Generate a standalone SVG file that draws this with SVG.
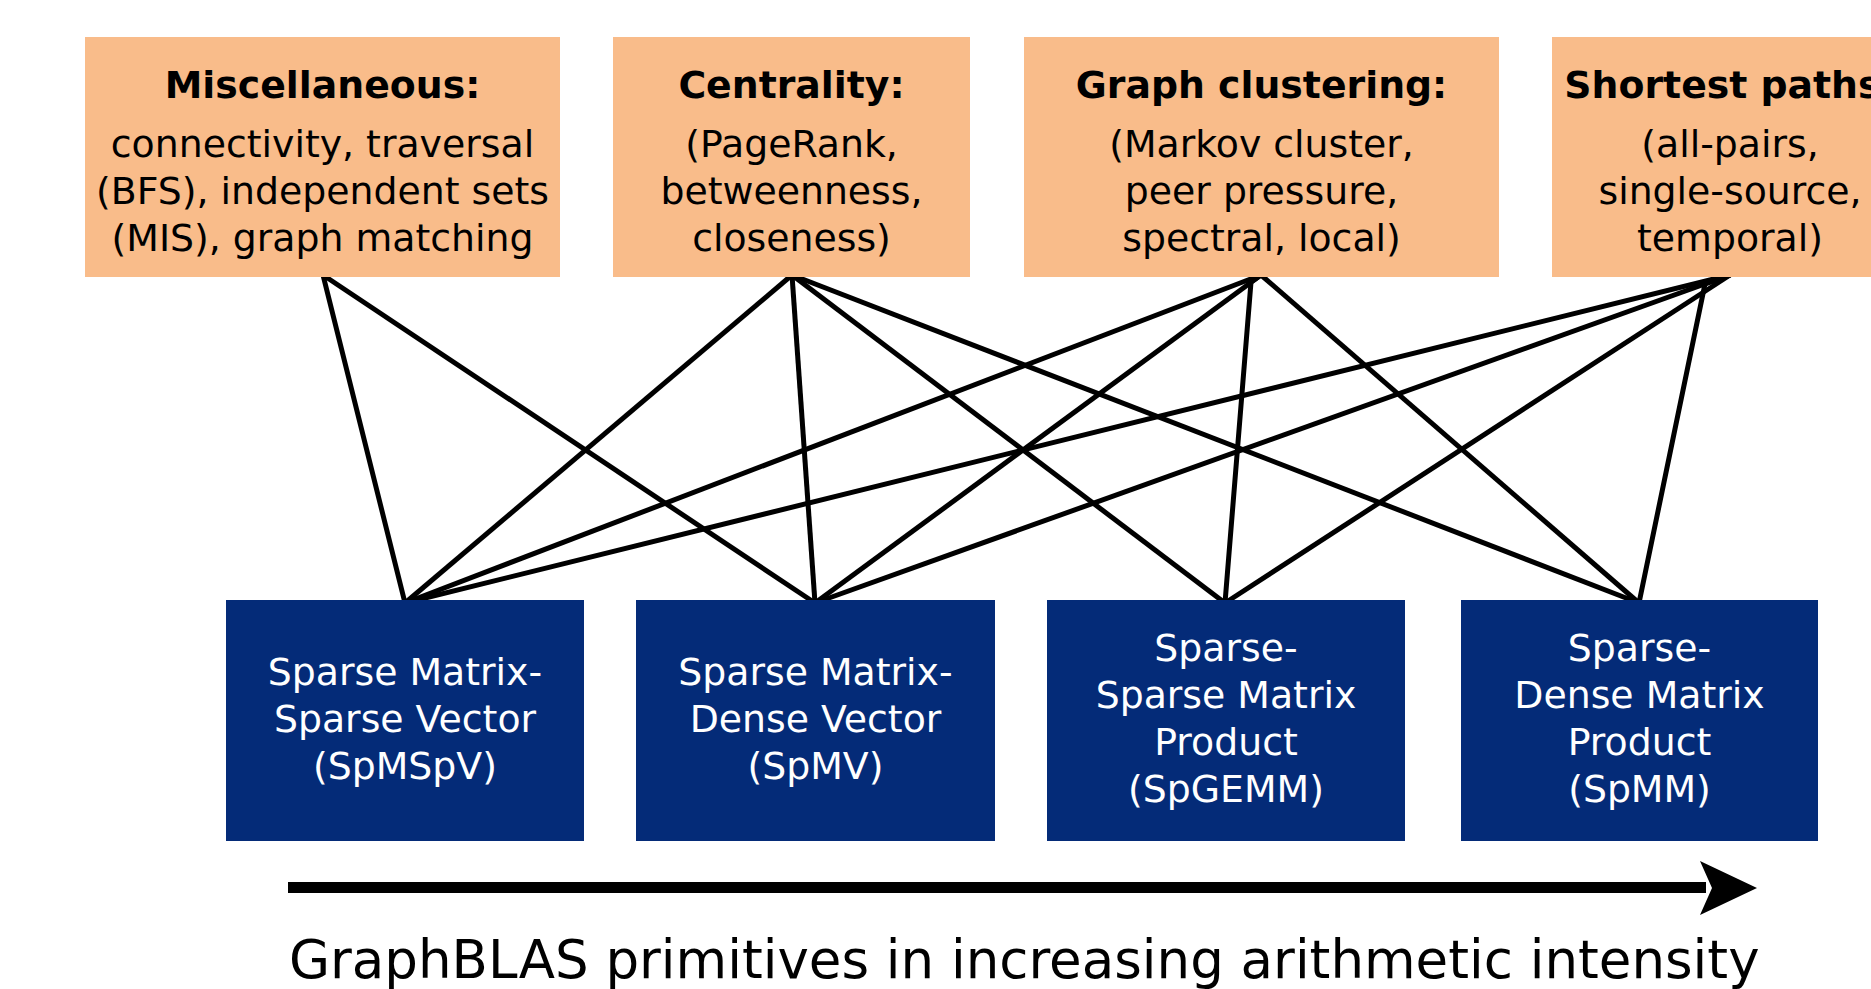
<svg xmlns="http://www.w3.org/2000/svg" width="1871" height="989" viewBox="0 0 1871 989">
<style>
.top{fill:#F9BC8A}
.bot{fill:#042B78}
.t{font-family:"DejaVu Sans","Verdana",sans-serif;font-size:37.8px;text-anchor:middle}
.dark{fill:#000}
.light{fill:#fff}
.b{font-weight:bold}
.edge{fill:none;stroke:#000;stroke-width:5;stroke-linejoin:miter}
</style>
<rect width="1871" height="989" fill="#fff"/>
<g id="connectors">
<line class="edge" x1="323" y1="275" x2="405" y2="603"/>
<line class="edge" x1="323" y1="275" x2="815" y2="603"/>
<line class="edge" x1="792" y1="275" x2="405" y2="603"/>
<line class="edge" x1="792" y1="275" x2="815" y2="603"/>
<line class="edge" x1="792" y1="275" x2="1225" y2="603"/>
<line class="edge" x1="792" y1="275" x2="1639" y2="603"/>
<line class="edge" x1="1261" y1="275" x2="405" y2="603"/>
<line class="edge" x1="1261" y1="275" x2="815" y2="603"/>
<polyline class="edge" points="1225,603 1251,282 1261,275"/>
<line class="edge" x1="1261" y1="275" x2="1639" y2="603"/>
<line class="edge" x1="1730" y1="275" x2="405" y2="603"/>
<line class="edge" x1="1730" y1="275" x2="815" y2="603"/>
<line class="edge" x1="1730" y1="275" x2="1225" y2="603"/>
<polyline class="edge" points="1639,603 1705,284 1730,275"/>
</g>
<g id="misc">
<rect class="top" x="85" y="37" width="475" height="240"/>
<text class="t dark b" x="322.5" y="98">Miscellaneous:</text>
<text class="t dark" x="322.5" y="157">connectivity, traversal</text>
<text class="t dark" x="322.5" y="204">(BFS), independent sets</text>
<text class="t dark" x="322.5" y="251">(MIS), graph matching</text>
</g>
<g id="centrality">
<rect class="top" x="613" y="37" width="357" height="240"/>
<text class="t dark b" x="791.5" y="98">Centrality:</text>
<text class="t dark" x="791.5" y="157">(PageRank,</text>
<text class="t dark" x="791.5" y="204">betweenness,</text>
<text class="t dark" x="791.5" y="251">closeness)</text>
</g>
<g id="clustering">
<rect class="top" x="1024" y="37" width="475" height="240"/>
<text class="t dark b" x="1261.5" y="98">Graph clustering:</text>
<text class="t dark" x="1261.5" y="157">(Markov cluster,</text>
<text class="t dark" x="1261.5" y="204">peer pressure,</text>
<text class="t dark" x="1261.5" y="251">spectral, local)</text>
</g>
<g id="shortest">
<rect class="top" x="1552" y="37" width="357" height="240"/>
<text class="t dark b" x="1730" y="98">Shortest paths:</text>
<text class="t dark" x="1730" y="157">(all-pairs,</text>
<text class="t dark" x="1730" y="204">single-source,</text>
<text class="t dark" x="1730" y="251">temporal)</text>
</g>
<g id="spmspv">
<rect class="bot" x="226" y="600" width="358" height="241"/>
<text class="t light" x="405" y="685">Sparse Matrix-</text>
<text class="t light" x="405" y="732">Sparse Vector</text>
<text class="t light" x="405" y="779">(SpMSpV)</text>
</g>
<g id="spmv">
<rect class="bot" x="636" y="600" width="359" height="241"/>
<text class="t light" x="815.5" y="685">Sparse Matrix-</text>
<text class="t light" x="815.5" y="732">Dense Vector</text>
<text class="t light" x="815.5" y="779">(SpMV)</text>
</g>
<g id="spgemm">
<rect class="bot" x="1047" y="600" width="358" height="241"/>
<text class="t light" x="1226" y="661">Sparse-</text>
<text class="t light" x="1226" y="708">Sparse Matrix</text>
<text class="t light" x="1226" y="755">Product</text>
<text class="t light" x="1226" y="802">(SpGEMM)</text>
</g>
<g id="spmm">
<rect class="bot" x="1461" y="600" width="357" height="241"/>
<text class="t light" x="1639.5" y="661">Sparse-</text>
<text class="t light" x="1639.5" y="708">Dense Matrix</text>
<text class="t light" x="1639.5" y="755">Product</text>
<text class="t light" x="1639.5" y="802">(SpMM)</text>
</g>
<g id="axis">
<rect x="288" y="882" width="1418" height="11" fill="#000"/>
<polygon points="1700,861 1757,888 1700,915 1712,888" fill="#000"/>
<text x="289" y="978" font-family="DejaVu Sans, Verdana, sans-serif" font-size="53" fill="#000">GraphBLAS primitives in increasing arithmetic intensity</text>
</g>
</svg>
